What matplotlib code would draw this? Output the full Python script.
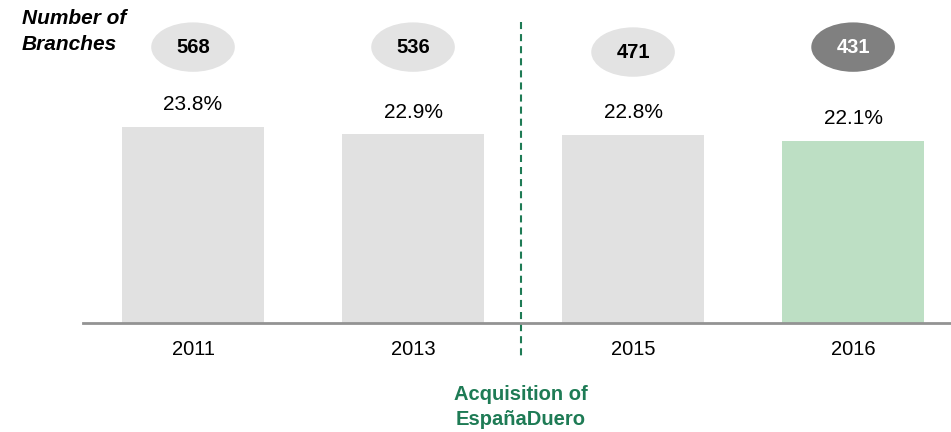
import matplotlib.pyplot as plt
from matplotlib.patches import Ellipse

plt.rcParams['font.family'] = ['Liberation Sans', 'DejaVu Sans']

years = ['2011', '2013', '2015', '2016']
share = [23.8, 22.9, 22.8, 22.1]
branches = [568, 536, 471, 431]

bar_colors = ['#e1e1e1', '#e1e1e1', '#e1e1e1', '#bddfc4']
oval_colors = ['#e3e3e3', '#e3e3e3', '#e3e3e3', '#808080']
oval_text = ['black', 'black', 'black', 'white']
oval_y = [33.5, 33.5, 32.9, 33.5]

fig = plt.figure(figsize=(9.51, 4.32), dpi=100)
ax = fig.add_axes([83 / 951, 109 / 432, 868 / 951, 323 / 432])
x = list(range(len(years)))

ax.bar(x, share, width=0.645, color=bar_colors, zorder=2)
ax.set_xlim(-0.5, 3.445)
ax.set_ylim(0, 39.22)

for s in ['top', 'right', 'left']:
    ax.spines[s].set_visible(False)
ax.spines['bottom'].set_color('#939393')
ax.spines['bottom'].set_linewidth(2)
ax.set_yticks([])
ax.set_xticks(x)
ax.set_xticklabels(years, fontsize=14.5)
ax.tick_params(axis='x', length=0, pad=12)

# percentage labels above bars
for i, v in enumerate(share):
    ax.text(i, v + 2.7, f'{v}%', ha='center', va='center', fontsize=15)

# branch count ovals
for i, n in enumerate(branches):
    ax.add_patch(Ellipse((i, oval_y[i]), 0.38, 6.0, facecolor=oval_colors[i],
                         edgecolor='none', clip_on=False))
    ax.text(i, oval_y[i], str(n), ha='center', va='center', fontsize=14.5,
            fontweight='bold', color=oval_text[i])

fig.text(22 / 951, 1 - 9 / 432, 'Number of\nBranches', ha='left', va='top',
         fontsize=15, fontweight='bold', style='italic', linespacing=1.45)

# acquisition marker
ax.plot([1.49, 1.49], [36.55, -4.37], color='#1e7b55', lw=1.5,
        dashes=(3.4, 2.4), clip_on=False)
ax.text(1.49, -10.2, 'Acquisition of\nEspañaDuero', ha='center', va='center',
        fontsize=14.5, fontweight='bold', color='#1e7b55', linespacing=1.45)

fig.savefig('out.png', dpi=100)
